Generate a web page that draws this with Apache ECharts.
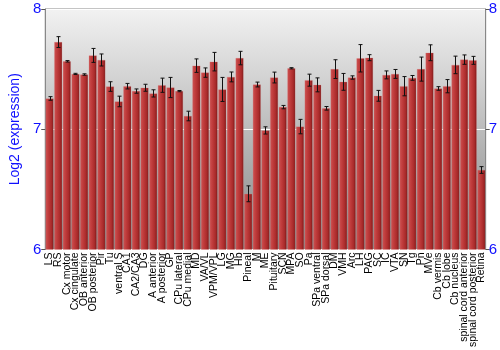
<!DOCTYPE html>
<html><head><meta charset="utf-8">
<script src="https://cdn.jsdelivr.net/npm/echarts@6/dist/echarts.min.js"></script>
<style>html,body{margin:0;padding:0;background:#fff}#c{width:500px;height:350px}</style>
</head><body><div id="c"></div>
<script>
const categories = ["LS","RS","Cx motor","Cx cingulate","OB anterior","OB posterior","Pir","Tu","ventral S","CA1","CA2/CA3","DG","A anterior","A posterior","GP","CPu lateral","CPu medial","MD","VA/VL","VPM/VPL","LG","MG","Hb","Pineal","M","ME","Pituitary","SCN","MPA","SO","Pa","SPa ventral","SPa dorsal","DM","VMH","Arc","LH","PAG","SC","IC","VTA","SN","Tg","Pn","MVe","Cb vermis","Cb lobe","Cb nucleus","spinal cord anterior","spinal cord posterior","Retina"];
const values = [7.256,7.725,7.565,7.46,7.455,7.614,7.576,7.355,7.231,7.358,7.317,7.345,7.298,7.366,7.347,7.317,7.11,7.529,7.471,7.562,7.331,7.435,7.592,6.463,7.372,6.99,7.43,7.184,7.507,7.022,7.408,7.369,7.174,7.50,7.394,7.43,7.59,7.595,7.278,7.452,7.46,7.358,7.427,7.50,7.636,7.339,7.358,7.535,7.579,7.573,6.661];
const errors = [0.015,0.045,0.006,0.005,0.006,0.058,0.05,0.04,0.044,0.023,0.018,0.029,0.03,0.059,0.084,0.005,0.04,0.056,0.039,0.077,0.10,0.041,0.056,0.066,0.02,0.03,0.045,0.014,0.005,0.06,0.05,0.058,0.015,0.078,0.07,0.014,0.114,0.025,0.045,0.033,0.037,0.08,0.02,0.1,0.066,0.015,0.055,0.073,0.039,0.033,0.028];
const yTicks = [6,7,8];

const chart = echarts.init(document.getElementById('c'), null, {renderer:'canvas'});
const blue = '#1010ff';
const barGrad = new echarts.graphic.LinearGradient(0,0,1,0,[
  {offset:0,color:'#cc5252'},{offset:0.35,color:'#c03c3c'},{offset:0.75,color:'#a82a2a'},{offset:1,color:'#761414'}]);
chart.setOption({
  animation:false,
  grid:{left:28,right:13,top:9,bottom:99,show:true,borderColor:'#888',borderWidth:1,
    backgroundColor:new echarts.graphic.LinearGradient(0,0,0,1,[{offset:0,color:'#f2f2f2'},{offset:1,color:'#858585'}])},
  xAxis:{type:'category',data:categories,
    axisLine:{show:false},axisTick:{show:false},
    axisLabel:{interval:0,rotate:90,fontSize:10.5,fontFamily:'Liberation Sans, Arial, sans-serif',color:'#000',margin:3}},
  yAxis:[{type:'value',min:6,max:8,interval:1,name:'Log2 (expression)',nameLocation:'middle',nameGap:15,
    nameTextStyle:{color:blue,fontSize:14,fontFamily:'Liberation Sans, Arial, sans-serif'},
    axisLine:{show:true,lineStyle:{color:'#888'}},axisTick:{show:true,length:4,lineStyle:{color:'#555'}},
    axisLabel:{color:blue,fontSize:15,fontFamily:'Liberation Sans, Arial, sans-serif',margin:4,
      formatter:v=>yTicks.includes(v)?String(v):''},
    splitLine:{show:true,lineStyle:{color:'#ffffff',width:1}}},
   {type:'value',min:6,max:8,interval:1,position:'right',
    axisLine:{show:true,lineStyle:{color:'#888'}},axisTick:{show:true,length:4,lineStyle:{color:'#555'}},
    axisLabel:{color:blue,fontSize:15,fontFamily:'Liberation Sans, Arial, sans-serif',margin:3},
    splitLine:{show:false}}],
  series:[
    {type:'bar',data:values,barCategoryGap:'8%',
     itemStyle:{color:barGrad,borderColor:'rgba(220,120,120,0.5)',borderWidth:0.5}},
    {type:'custom',data:values.map((v,i)=>[i,v-errors[i],v+errors[i]]),z:10,
     renderItem:function(params,api){
       const lo=api.coord([api.value(0),api.value(1)]);
       const hi=api.coord([api.value(0),api.value(2)]);
       const x=Math.round(lo[0])+0.5, w=2;
       const st={stroke:'#111',lineWidth:1};
       return {type:'group',children:[
         {type:'line',shape:{x1:x,y1:hi[1],x2:x,y2:lo[1]},style:st},
         {type:'line',shape:{x1:x-w,y1:hi[1],x2:x+w,y2:hi[1]},style:st},
         {type:'line',shape:{x1:x-w,y1:lo[1],x2:x+w,y2:lo[1]},style:st}]};
     }}
  ]
});
</script></body></html>
